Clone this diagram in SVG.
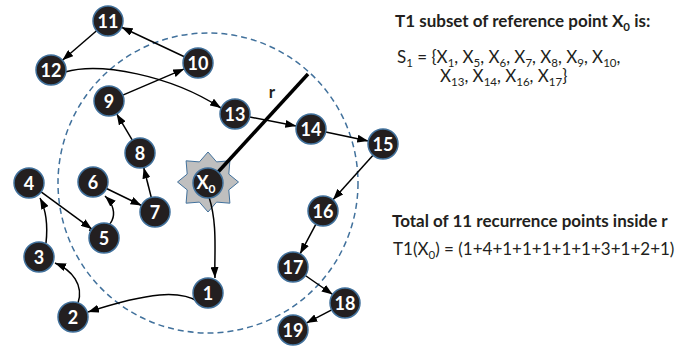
<svg xmlns="http://www.w3.org/2000/svg" width="700" height="346" viewBox="0 0 700 346">
<style>
.node circle{fill:#231f20;stroke:#41719c;stroke-width:1.5}
.node text{fill:#fff;font-family:Lato,"Liberation Sans",sans-serif;font-weight:700;font-size:18px;text-anchor:middle}
.edge{fill:none;stroke:#000;stroke-width:1.5;marker-end:url(#arr)}
.lbl{font-family:Lato,"Liberation Sans",sans-serif;font-size:17px;fill:#231f20}
.b{font-weight:700}
.s{font-size:11.5px}
</style>
<defs>
<marker id="arr" markerUnits="userSpaceOnUse" markerWidth="11" markerHeight="8" refX="11" refY="4" orient="auto"><path d="M0,0 L11,4 L0,8 z" fill="#000"/></marker>
</defs>
<circle cx="208" cy="183" r="150" fill="none" stroke="#41719c" stroke-width="1.5" stroke-dasharray="6,4"/>
<g id="star"><polygon points="208,152 216.6,161.9 229.9,160.8 228.8,174.1 238.5,182 228.8,189.9 229.9,203.2 216.6,202.1 208,212 199.4,202.1 186.1,203.2 187.2,189.9 177.5,182 187.2,174.1 186.1,160.8 199.4,161.9" fill="#bfbfbf" stroke="#41719c" stroke-width="1"/></g>
<g id="radius"><line x1="208" y1="183" x2="308" y2="74" stroke="#000" stroke-width="3.5"/><text x="272" y="98" class="lbl b" font-size="19px" text-anchor="middle">r</text></g>
<g id="connectors">
<line class="edge" x1="184.4" y1="56.7" x2="121.6" y2="27.3"/>
<line class="edge" x1="96.6" y1="30.8" x2="62.4" y2="60.2"/>
<path class="edge" d="M65,72 C100,62 170,75 221,108"/>
<line class="edge" x1="122.8" y1="95.1" x2="184.2" y2="68.9"/>
<line class="edge" x1="132.3" y1="140.1" x2="116.7" y2="113.9"/>
<line class="edge" x1="151.3" y1="197.5" x2="143.7" y2="167.5"/>
<line class="edge" x1="106.5" y1="188.5" x2="141.5" y2="205.5"/>
<path class="edge" d="M89,230 C112,234 122,212 105,196"/>
<line class="edge" x1="41.1" y1="191.9" x2="91.9" y2="229.1"/>
<path class="edge" d="M46,243 C48,225 46,210 40,198"/>
<path class="edge" d="M78,303 C84,285 72,270 55,263"/>
<path class="edge" d="M199,302 C180,290 150,292 88,312"/>
<path class="edge" d="M209,197 C218,225 214,255 215,278"/>
<line class="edge" x1="249.7" y1="116.9" x2="296.3" y2="126.1"/>
<line class="edge" x1="325.7" y1="132.1" x2="368.3" y2="140.9"/>
<line class="edge" x1="373" y1="155.2" x2="333" y2="199.8"/>
<line class="edge" x1="315.9" y1="224.2" x2="300.1" y2="253.8"/>
<line class="edge" x1="305.3" y1="275.5" x2="332.7" y2="294.5"/>
<line class="edge" x1="331.7" y1="309.9" x2="306.3" y2="323.1"/>
</g>
<g id="n11" class="node"><circle cx="108" cy="21" r="15"/><text x="108" y="27.5">11</text></g>
<g id="n10" class="node"><circle cx="198" cy="63" r="15"/><text x="198" y="69.5">10</text></g>
<g id="n12" class="node"><circle cx="51" cy="70" r="15"/><text x="51" y="76.5">12</text></g>
<g id="n9" class="node"><circle cx="109" cy="101" r="15"/><text x="109" y="107.5">9</text></g>
<g id="n13" class="node"><circle cx="235" cy="114" r="15"/><text x="235" y="120.5">13</text></g>
<g id="n14" class="node"><circle cx="311" cy="129" r="15"/><text x="311" y="135.5">14</text></g>
<g id="n15" class="node"><circle cx="383" cy="144" r="15"/><text x="383" y="150.5">15</text></g>
<g id="n8" class="node"><circle cx="140" cy="153" r="15"/><text x="140" y="159.5">8</text></g>
<g id="nX0" class="node"><circle cx="208" cy="183" r="15"/><text x="206" y="189">X<tspan font-size="12px" dy="4">0</tspan></text></g>
<g id="n4" class="node"><circle cx="29" cy="183" r="15"/><text x="29" y="189.5">4</text></g>
<g id="n6" class="node"><circle cx="93" cy="182" r="15"/><text x="93" y="188.5">6</text></g>
<g id="n7" class="node"><circle cx="155" cy="212" r="15"/><text x="155" y="218.5">7</text></g>
<g id="n5" class="node"><circle cx="104" cy="238" r="15"/><text x="104" y="244.5">5</text></g>
<g id="n3" class="node"><circle cx="39" cy="257" r="15"/><text x="39" y="263.5">3</text></g>
<g id="n16" class="node"><circle cx="323" cy="211" r="15"/><text x="323" y="217.5">16</text></g>
<g id="n17" class="node"><circle cx="293" cy="267" r="15"/><text x="293" y="273.5">17</text></g>
<g id="n1" class="node"><circle cx="208" cy="293" r="15"/><text x="208" y="299.5">1</text></g>
<g id="n2" class="node"><circle cx="73" cy="317" r="15"/><text x="73" y="323.5">2</text></g>
<g id="n18" class="node"><circle cx="345" cy="303" r="15"/><text x="345" y="309.5">18</text></g>
<g id="n19" class="node"><circle cx="293" cy="330" r="15"/><text x="293" y="336.5">19</text></g>
<g id="texts">
<text class="lbl b" x="395" y="27">T1 subset of reference point X<tspan class="s" dy="4">0</tspan><tspan dy="-4"> is:</tspan></text>
<text class="lbl" x="397" y="63">S<tspan class="s" dy="4">1</tspan><tspan dy="-4"> = {X</tspan><tspan class="s" dy="4">1</tspan><tspan dy="-4">, X</tspan><tspan class="s" dy="4">5</tspan><tspan dy="-4">, X</tspan><tspan class="s" dy="4">6</tspan><tspan dy="-4">, X</tspan><tspan class="s" dy="4">7</tspan><tspan dy="-4">, X</tspan><tspan class="s" dy="4">8</tspan><tspan dy="-4">, X</tspan><tspan class="s" dy="4">9</tspan><tspan dy="-4">, X</tspan><tspan class="s" dy="4">10</tspan><tspan dy="-4">,</tspan></text>
<text class="lbl" x="440" y="82">X<tspan class="s" dy="4">13</tspan><tspan dy="-4">, X</tspan><tspan class="s" dy="4">14</tspan><tspan dy="-4">, X</tspan><tspan class="s" dy="4">16</tspan><tspan dy="-4">, X</tspan><tspan class="s" dy="4">17</tspan><tspan dy="-4">}</tspan></text>
<text class="lbl b" x="392" y="227">Total of 11 recurrence points inside r</text>
<text class="lbl" x="393" y="255">T1(X<tspan class="s" dy="4">0</tspan><tspan dy="-4">) = (1+4+1+1+1+1+1+3+1+2+1)</tspan></text>
</g>
</svg>
